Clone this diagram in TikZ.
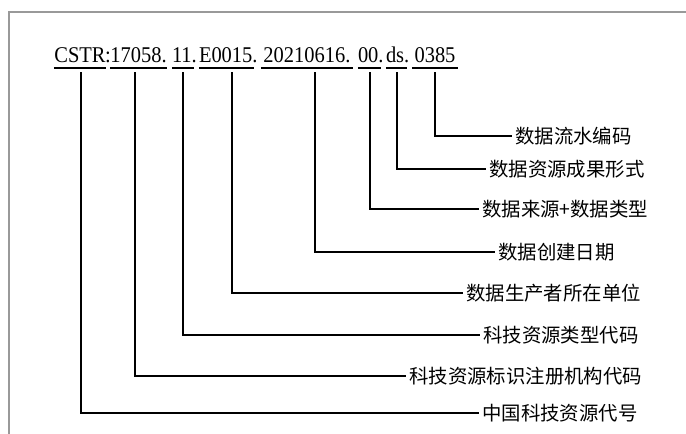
\documentclass[tikz,border=0pt]{standalone}
\usepackage{fontspec}
\setmainfont{Liberation Serif}
\newfontfamily\hdr[FakeStretch=0.91]{Liberation Serif}
\newfontfamily\cjk{Noto Sans CJK SC}
\begin{document}
\begin{tikzpicture}[x=1pt,y=-1pt,
  seg/.style={inner sep=0pt,anchor=base,font=\hdr\fontsize{22.5}{24}\selectfont},
  lab/.style={inner xsep=3pt,inner ysep=0pt,anchor=west,font=\cjk\fontsize{19.4}{21}\selectfont},
  conn/.style={line width=1.6pt,black},
  uline/.style={line width=1.3pt,black},
  frame/.style={line width=1.2pt,draw=black!40}]
\useasboundingbox (0,0) rectangle (686,434);
\draw[frame] (9,434) -- (9,12) -- (686,12);
% header segments
\node[seg,text width=52pt,align=center]  (s1) at (80,62)  {CSTR};
\node[seg] (colon) at (108,62) {:};
\node[seg,text width=57pt,align=center]  (s2) at (138.5,62) {17058.};
\node[seg,text width=22pt,align=center]  (s3) at (183,62) {11.};
\node[seg,text width=55pt,align=center]  (s4) at (226.5,62) {E0015.};
\node[seg,text width=92pt,align=center]  (s5) at (307,62) {20210616.};
\node[seg,text width=23pt,align=center]  (s6) at (369.5,62) {00.};
\node[seg,text width=21pt,align=center]  (s7) at (396.5,62) {ds.};
\node[seg,text width=46pt,align=center]  (s8) at (435,62) {0385};
\foreach \s in {s1,s2,s3,s4,s5,s6,s7,s8}
  \draw[uline] (\s.base west |- 0,68) -- (\s.base east |- 0,68);
% start points of connectors
\coordinate (v1) at (81,72);
\coordinate (v2) at (135,72);
\coordinate (v3) at (183,72);
\coordinate (v4) at (232,72);
\coordinate (v5) at (315,72);
\coordinate (v6) at (370,72);
\coordinate (v7) at (397,72);
\coordinate (v8) at (435,72);
% labels
\node[lab] (l8) at (512,136) {数据流水编码};
\node[lab] (l7) at (486,169) {数据资源成果形式};
\node[lab] (l6) at (479,209) {数据来源+数据类型};
\node[lab] (l5) at (495,252) {数据创建日期};
\node[lab] (l4) at (463,293) {数据生产者所在单位};
\node[lab] (l3) at (480,335) {科技资源类型代码};
\node[lab] (l2) at (406,376) {科技资源标识注册机构代码};
\node[lab] (l1) at (479,413) {中国科技资源代号};
\foreach \i in {1,...,8}
  \draw[conn] (v\i) |- (l\i.west);
\end{tikzpicture}
\end{document}
